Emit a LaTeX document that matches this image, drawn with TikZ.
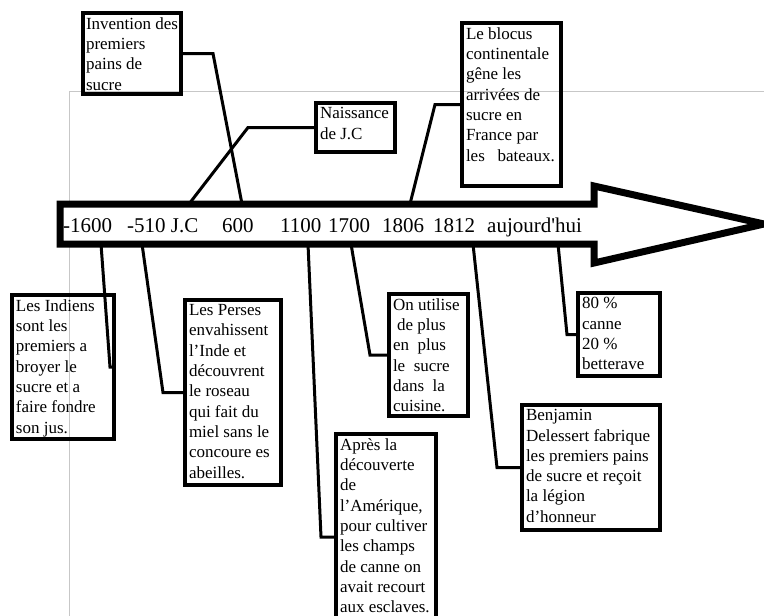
\documentclass[tikz,border=0pt]{standalone}
\usepackage{fontspec}
\setmainfont{Liberation Serif}
\newcommand{\evt}[3]{\parbox[t][#2pt][t]{#1pt}{#3}}

\begin{document}
\begin{tikzpicture}[x=1pt, y=-1pt,
    box/.style={draw, line width=4pt, outer sep=0pt, inner xsep=4pt, inner ysep=4.5pt,
      anchor=north west, font=\fontsize{17}{20.3}\selectfont},
    link/.style={line width=3pt},
    year/.style={anchor=base west, inner sep=0pt, font=\fontsize{21}{25}\selectfont}]
  \useasboundingbox (0,0) rectangle (764,616);
  \draw[black!22, line width=1pt] (764,91) -- (69,91) -- (69,616);

  \node[box, inner xsep=3pt] (invent) at (83,13) {\evt{92}{72}{Invention des\\premiers\\pains de\\sucre}};
  \node[box] (naiss) at (316,103) {\evt{71}{40}{Naissance\\de J.C}};
  \node[box] (blocus) at (462,23) {\evt{91}{154}{Le blocus\\continentale\\gêne les\\arrivées de\\sucre en\\France par\\les\ \ \ bateaux.}};
  \node[box] (indiens) at (12,295) {\evt{94}{135}{Les Indiens\\sont les\\premiers a\\broyer le\\sucre et a\\faire fondre\\son jus.}};
  \node[box] (perses) at (185,300) {\evt{88}{176}{Les Perses\\envahissent\\l’Inde et\\découvrent\\le roseau\\qui fait du\\miel sans le\\concoure es\\abeilles.}};
  \node[box] (apres) at (336,434) {\evt{92}{197}{Après la\\découverte\\de\\l’Amérique,\\pour cultiver\\les champs\\de canne on\\avait recourt\\aux esclaves.}};
  \node[box] (cuisine) at (389,294) {\evt{71}{113}{On utilise\\\hspace*{4pt}de plus\\en\ \ plus\\le\ \ sucre\\dans\ \ la\\cuisine.}};
  \node[box] (deless) at (522,405) {\evt{130}{116}{Benjamin\\Delessert fabrique\\les premiers pains\\de sucre et reçoit\\la légion\\d’honneur}};
  \node[box] (canne) at (578,293) {\evt{74}{74}{80 \%\\canne\\20 \%\\betterave}};

  \coordinate (tjc) at (189,204);
  \coordinate (t600) at (242,204);
  \coordinate (t1806) at (410,204);
  \coordinate (b1600) at (101,244);
  \coordinate (b510) at (142,244);
  \coordinate (b1100) at (308,244);
  \coordinate (b1700) at (351,244);
  \coordinate (b1812) at (473,244);
  \coordinate (bnow) at (558,244);

  \draw[link] (invent.east) -- ++(32,0) -- (t600);
  \draw[link] (naiss.west) -- ++(-68,0) -- (tjc);
  \draw[link] (blocus.west) -- ++(-27,0) -- (t1806);
  \draw[link] (b1600) -- ([xshift=-4pt]indiens.east) -- (indiens.east);
  \draw[link] (b510) -- ([xshift=-22pt]perses.west) -- (perses.west);
  \draw[link] (b1100) -- ([xshift=-15pt]apres.west) -- (apres.west);
  \draw[link] (b1700) -- ([xshift=-19pt]cuisine.west) -- (cuisine.west);
  \draw[link] (b1812) -- ([xshift=-25pt]deless.west) -- (deless.west);
  \draw[link] (bnow) -- ([xshift=-11pt]canne.west) -- (canne.west);

  \draw[line width=7pt, fill=white] (60,204) -- (594,204) -- (594,186) -- (764,224)
    -- (594,263) -- (594,244) -- (60,244) -- cycle;

  \node[year] (l1600) at (63,232) {-1600};
  \node[year] (l510) at (127,232) {-510 J.C};
  \node[year] (l600) at (222,232) {600};
  \node[year] (l1100) at (280,232) {1100};
  \node[year] (l1700) at (328,232) {1700};
  \node[year] (l1806) at (382,232) {1806};
  \node[year] (l1812) at (433,232) {1812};
  \node[year] (lnow) at (487,232) {aujourd\textquotesingle hui};
\end{tikzpicture}
\end{document}
